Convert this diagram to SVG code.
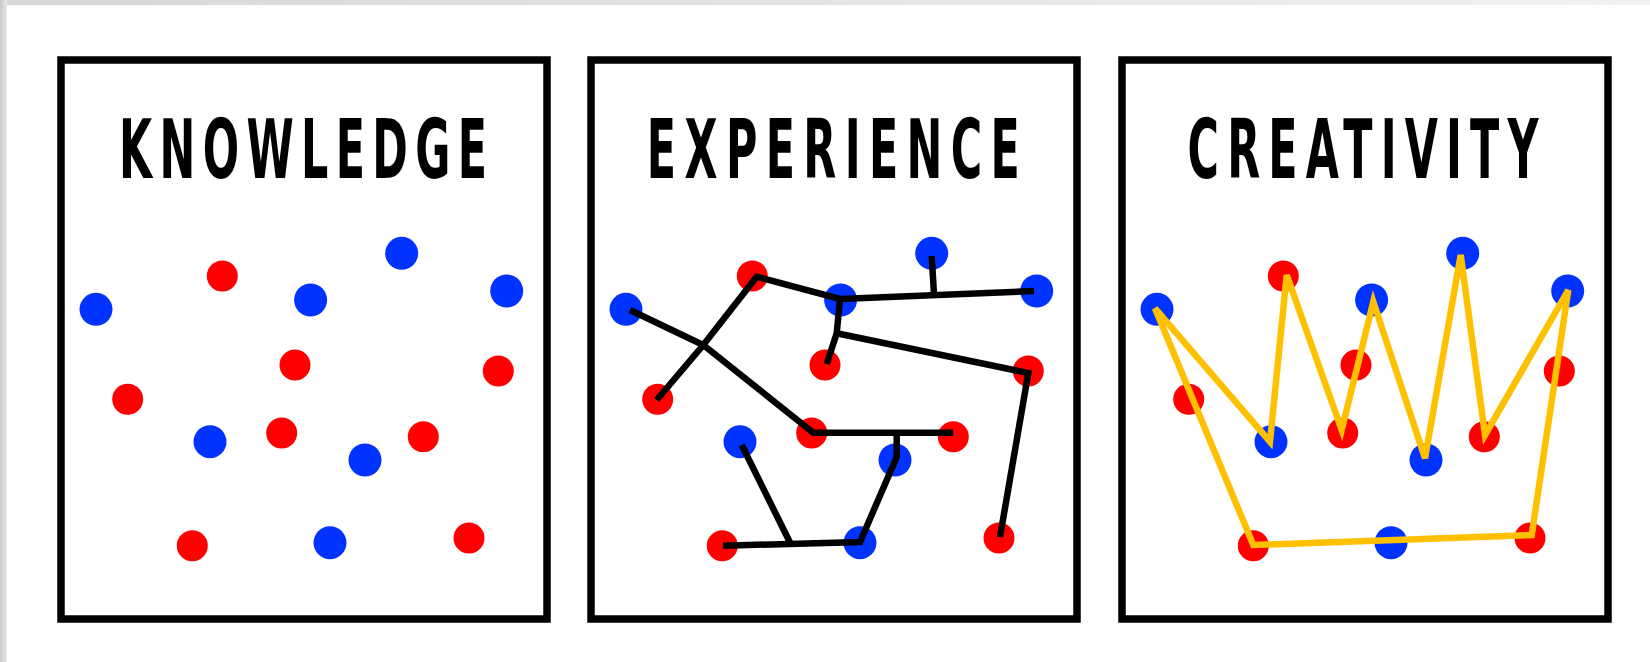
<svg xmlns="http://www.w3.org/2000/svg" xmlns:xlink="http://www.w3.org/1999/xlink" width="1650" height="662" viewBox="0 0 1650 662">
  <style>
    .frame { fill: none; stroke: #000; stroke-width: 7.5; }
    .title { font-family: "DejaVu Sans Condensed", "DejaVu Sans", sans-serif; font-stretch: condensed; font-weight: bold; font-size: 82px; fill: #000; }
    .b { fill: #0033ff; }
    .r { fill: #ff0000; }
    .link { fill: none; stroke: #000; stroke-width: 6.5; stroke-linejoin: miter; stroke-linecap: butt; }
    .crown { fill: none; stroke: #ffc000; stroke-width: 6.5; stroke-linejoin: miter; }
  </style>
  <defs>
    <linearGradient id="gTop" x1="0" y1="0" x2="1" y2="0">
      <stop offset="0" stop-color="#d6d6d6"/>
      <stop offset="1" stop-color="#f2f2f2"/>
    </linearGradient>
    <linearGradient id="gLeft" x1="0" y1="0" x2="1" y2="0">
      <stop offset="0" stop-color="#c9c9c9"/>
      <stop offset="1" stop-color="#e8e8e8"/>
    </linearGradient>
    <g id="dotset">
      <circle class="b" cx="96" cy="309.3" r="16.5"/>
      <circle class="b" cx="310.6" cy="300" r="16.5"/>
      <circle class="b" cx="401.7" cy="253.3" r="16.5"/>
      <circle class="b" cx="506.7" cy="291" r="16.5"/>
      <circle class="b" cx="210" cy="441.7" r="16.5"/>
      <circle class="b" cx="365" cy="460" r="16.5"/>
      <circle class="b" cx="330" cy="542.7" r="16.5"/>
      <circle class="r" cx="222.3" cy="276" r="15.5"/>
      <circle class="r" cx="295" cy="365" r="15.5"/>
      <circle class="r" cx="498.3" cy="371" r="15.5"/>
      <circle class="r" cx="127.7" cy="399.3" r="15.5"/>
      <circle class="r" cx="281.7" cy="433" r="15.5"/>
      <circle class="r" cx="423.3" cy="436.7" r="15.5"/>
      <circle class="r" cx="192.3" cy="545.7" r="15.5"/>
      <circle class="r" cx="469" cy="538" r="15.5"/>
    </g>
  </defs>

  <rect x="0" y="0" width="1650" height="662" fill="#ffffff"/>
  <rect x="0" y="0" width="1650" height="5" fill="url(#gTop)"/>
  <rect x="0" y="0" width="7" height="662" fill="url(#gLeft)"/>

  <g id="knowledge">
    <rect class="frame" x="61" y="60" width="486" height="559"/>
    <text class="title" transform="scale(0.58,1)" x="205.1" y="178" textLength="634.6" lengthAdjust="spacing">KNOWLEDGE</text>
    <use href="#dotset"/>
  </g>

  <g id="experience">
    <rect class="frame" x="591" y="60" width="486" height="559"/>
    <text class="title" transform="scale(0.58,1)" x="1115.3" y="178" textLength="643" lengthAdjust="spacing">EXPERIENCE</text>
    <use href="#dotset" transform="translate(530,0)"/>
  </g>

  <g id="creativity">
    <rect class="frame" x="1122" y="60" width="486" height="559"/>
    <text class="title" transform="scale(0.58,1)" x="2047.6" y="178" textLength="604.8" lengthAdjust="spacing">CREATIVITY</text>
    <use href="#dotset" transform="translate(1061,0)"/>
  </g>

  <g id="connectors">
    <polyline class="link" points="630,310 703.3,345 813.3,432.7 953.3,432.7"/>
    <polyline class="link" points="656.7,400 703.3,345 756.7,276.7 840,299 1034,291"/>
    <polyline class="link" points="931.7,256 934,294.5"/>
    <polyline class="link" points="840,299 836.7,333.3 826.7,364"/>
    <polyline class="link" points="836.7,333.3 1028.3,373 1000,537"/>
    <polyline class="link" points="896.7,432.7 896.7,457 860,542 723,545.7"/>
    <polyline class="link" points="790,542.5 741.7,445"/>
    <polygon class="crown" points="1155,308.3 1270,441.7 1286.7,275 1341.7,430 1373.3,301.7 1425,458.3 1460.7,255 1485,435 1568.3,290 1531.7,535 1253.3,545"/>
  </g>
</svg>
